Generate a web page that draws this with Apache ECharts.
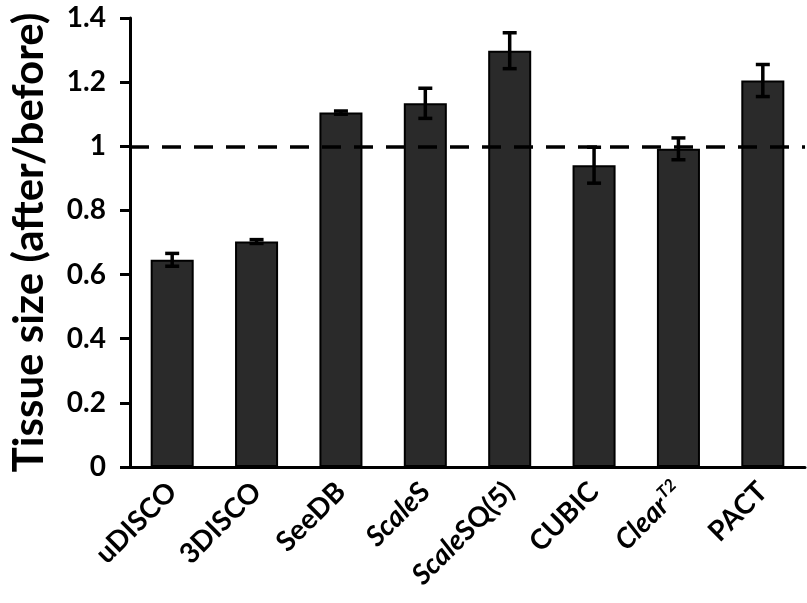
<!DOCTYPE html>
<html>
<head>
<meta charset="utf-8">
<script src="https://cdn.jsdelivr.net/npm/echarts@6/dist/echarts.min.js"></script>
<style>
    html, body { margin: 0; padding: 0; background: #fff; }
    #chart { width: 807px; height: 603px; }
</style>
</head>
<body>
<div id="chart"></div>
<script>
// data
const categories = ['uDISCO', '3DISCO', 'SeeDB', 'ScaleS', 'ScaleSQ(5)', 'CUBIC', 'ClearT2', 'PACT'];
const means = [0.646, 0.703, 1.105, 1.134, 1.298, 0.941, 0.992, 1.205];
const errors = [0.02, 0.006, 0.005, 0.047, 0.056, 0.056, 0.034, 0.05];
const yTicks = { min: 0, max: 1.4, interval: 0.2 };
const refLine = 1;

const FONT = 'Lato';

// rich-text names for the x labels (italic parts as in the paper)
const labelText = {
    ScaleS: '{i|Scale}{b|S}',
    'ScaleSQ(5)': '{i|Scale}{b|SQ(5)}',
    ClearT2: '{i|Clear}{sup|T2}',
};

const chart = echarts.init(document.getElementById('chart'));

const option = {
    animation: false,
    grid: {
        left: 125,
        right: 2,
        top: 18,
        bottom: 136,
    },
    xAxis: {
        type: 'category',
        data: categories,
        axisLine: { lineStyle: { color: '#000', width: 3 } },
        axisTick: { show: false },
        axisLabel: {
            interval: 0,
            rotate: 45,
            margin: 20,
            color: '#000',
            fontFamily: FONT,
            fontWeight: 'bold',
            fontSize: 28,
            formatter: v => labelText[v] || '{b|' + v + '}',
            rich: {
                b: { fontFamily: FONT, fontWeight: 'bold', fontSize: 28, color: '#000' },
                i: { fontFamily: FONT, fontWeight: 'bold', fontStyle: 'italic', fontSize: 28, color: '#000' },
                sup: { fontFamily: FONT, fontWeight: 'bold', fontStyle: 'italic', fontSize: 17, color: '#000', verticalAlign: 'top', padding: [0, 0, 14, 1] },
            },
        },
    },
    yAxis: {
        type: 'value',
        min: yTicks.min,
        max: yTicks.max,
        interval: yTicks.interval,
        name: 'Tissue size (after/before)',
        nameLocation: 'middle',
        nameGap: 80,
        nameTextStyle: {
            color: '#000',
            fontFamily: FONT,
            fontWeight: 'bold',
            fontSize: 42,
        },
        axisLine: { show: true, lineStyle: { color: '#000', width: 3 } },
        axisTick: { show: true, length: 10, lineStyle: { color: '#000', width: 3 } },
        splitLine: { show: false },
        axisLabel: {
            margin: 24,
            color: '#000',
            fontFamily: FONT,
            fontWeight: 'bold',
            fontSize: 28,
        },
    },
    series: [
        {
            type: 'bar',
            data: means,
            barWidth: '51%',
            itemStyle: {
                color: '#2a2a2a',
                borderColor: '#000',
                borderWidth: 2,
            },
            markLine: {
                silent: true,
                symbol: 'none',
                label: { show: false },
                lineStyle: { color: '#000', width: 3.5, type: [19, 13] },
                data: [{ yAxis: refLine }],
            },
            z: 2,
        },
        {
            type: 'custom',
            data: means.map((m, i) => [i, m, errors[i]]),
            renderItem: (params, api) => {
                const x = api.value(0);
                const m = api.value(1);
                const e = api.value(2);
                const top = api.coord([x, m + e]);
                const bot = api.coord([x, m - e]);
                const half = 7;
                const style = { stroke: '#000', lineWidth: 3.5 };
                return {
                    type: 'group',
                    children: [
                        { type: 'line', shape: { x1: top[0], y1: top[1], x2: bot[0], y2: bot[1] }, style },
                        { type: 'line', shape: { x1: top[0] - half, y1: top[1], x2: top[0] + half, y2: top[1] }, style },
                        { type: 'line', shape: { x1: bot[0] - half, y1: bot[1], x2: bot[0] + half, y2: bot[1] }, style },
                    ],
                };
            },
            z: 5,
        },
    ],
};

chart.setOption(option);
</script>
</body>
</html>
